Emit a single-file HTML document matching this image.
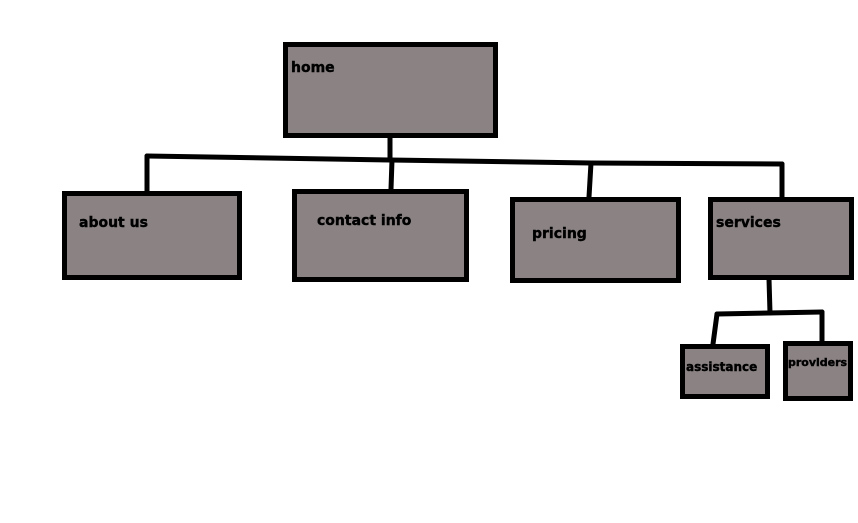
<!DOCTYPE html>
<html><head><style>html,body{margin:0;padding:0;background:#fff;}svg{display:block}</style></head>
<body>
<svg width="858" height="523" viewBox="0 0 858 523" xmlns="http://www.w3.org/2000/svg">
<g fill="#8a8283" stroke="#000" stroke-width="5">
<rect x="285.5" y="44.5" width="210" height="91"/>
<rect x="64.5" y="193.5" width="175" height="84"/>
<rect x="294.5" y="191.5" width="172" height="88"/>
<rect x="512.5" y="199.5" width="166" height="81"/>
<rect x="710.5" y="199.5" width="141" height="78"/>
<rect x="682.5" y="346.5" width="85" height="50"/>
<rect x="785.5" y="343.5" width="65" height="55"/>
</g>
<g stroke="#000" stroke-width="5" fill="none" stroke-linecap="round">
<line x1="390" y1="137" x2="390" y2="160"/>
<polyline points="147,156 390,160 591,163 782,164"/>
<line x1="147" y1="156" x2="147" y2="191"/>
<line x1="392" y1="160" x2="391" y2="189"/>
<line x1="591" y1="163" x2="589" y2="197"/>
<line x1="782" y1="164" x2="782" y2="197"/>
<line x1="769" y1="279" x2="770" y2="313"/>
<line x1="717" y1="314" x2="822" y2="312"/>
<line x1="717" y1="314" x2="713" y2="344"/>
<line x1="822" y1="312" x2="822" y2="341"/>
</g>
<g font-family="'DejaVu Sans','Liberation Sans',sans-serif" font-weight="bold" fill="#000" stroke="#000" stroke-width="0.4">
<text x="291" y="72" font-size="14">home</text>
<text x="79" y="227" font-size="14">about us</text>
<text x="317" y="225" font-size="14">contact info</text>
<text x="532" y="238" font-size="14">pricing</text>
<text x="716" y="227" font-size="14">services</text>
<text x="686" y="371" font-size="12">assistance</text>
<text x="788" y="366" font-size="11">providers</text>
</g>
</svg>
</body></html>
